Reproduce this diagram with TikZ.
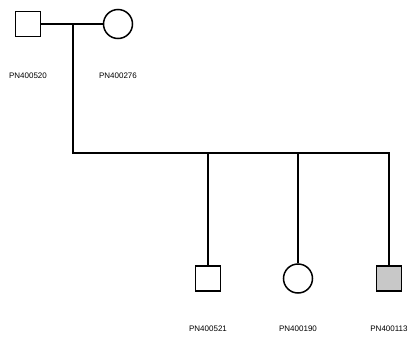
\documentclass[tikz,border=0pt]{standalone}
\usepackage{fontspec}
\setmainfont{Liberation Sans}
\usetikzlibrary{positioning}
\definecolor{affected}{RGB}{200,200,200}
\tikzset{
  male/.style={draw,line width=1.5pt,minimum size=25pt,inner sep=0pt},
  female/.style={draw,circle,line width=1.5pt,minimum size=29pt,inner sep=0pt},
  pid/.style={font=\fontsize{8}{9}\selectfont},
}
\begin{document}
\begin{tikzpicture}[x=1pt,y=-1pt,line width=1.5pt]
\useasboundingbox (0,0) rectangle (408,338);
\node[male] (F) at (28,24) {};
\node[female] (M) at (118,24) {};
\node[pid] (LF) at (28,76) {PN400520};
\node[pid] (LM) at (118,76) {PN400276};
\coordinate (drop) at (73,24);
\coordinate (sib) at (73,153);
\draw (F.east) -- (M.west);
\foreach \x/\s/\f/\t [count=\n] in {208/male/white/PN400521,298/female/white/PN400190,389/male/affected/PN400113}
  {
  \node[\s,fill=\f] (C\n) at (\x,278.5) {};
  \node[pid] (L\n) at (\x,329) {\t};
  }
\draw (drop) -- (sib) -- (C3.north |- sib) -- (C3.north);
\draw (C1.north |- sib) -- (C1.north);
\draw (C2.north |- sib) -- (C2.north);
\end{tikzpicture}
\end{document}
